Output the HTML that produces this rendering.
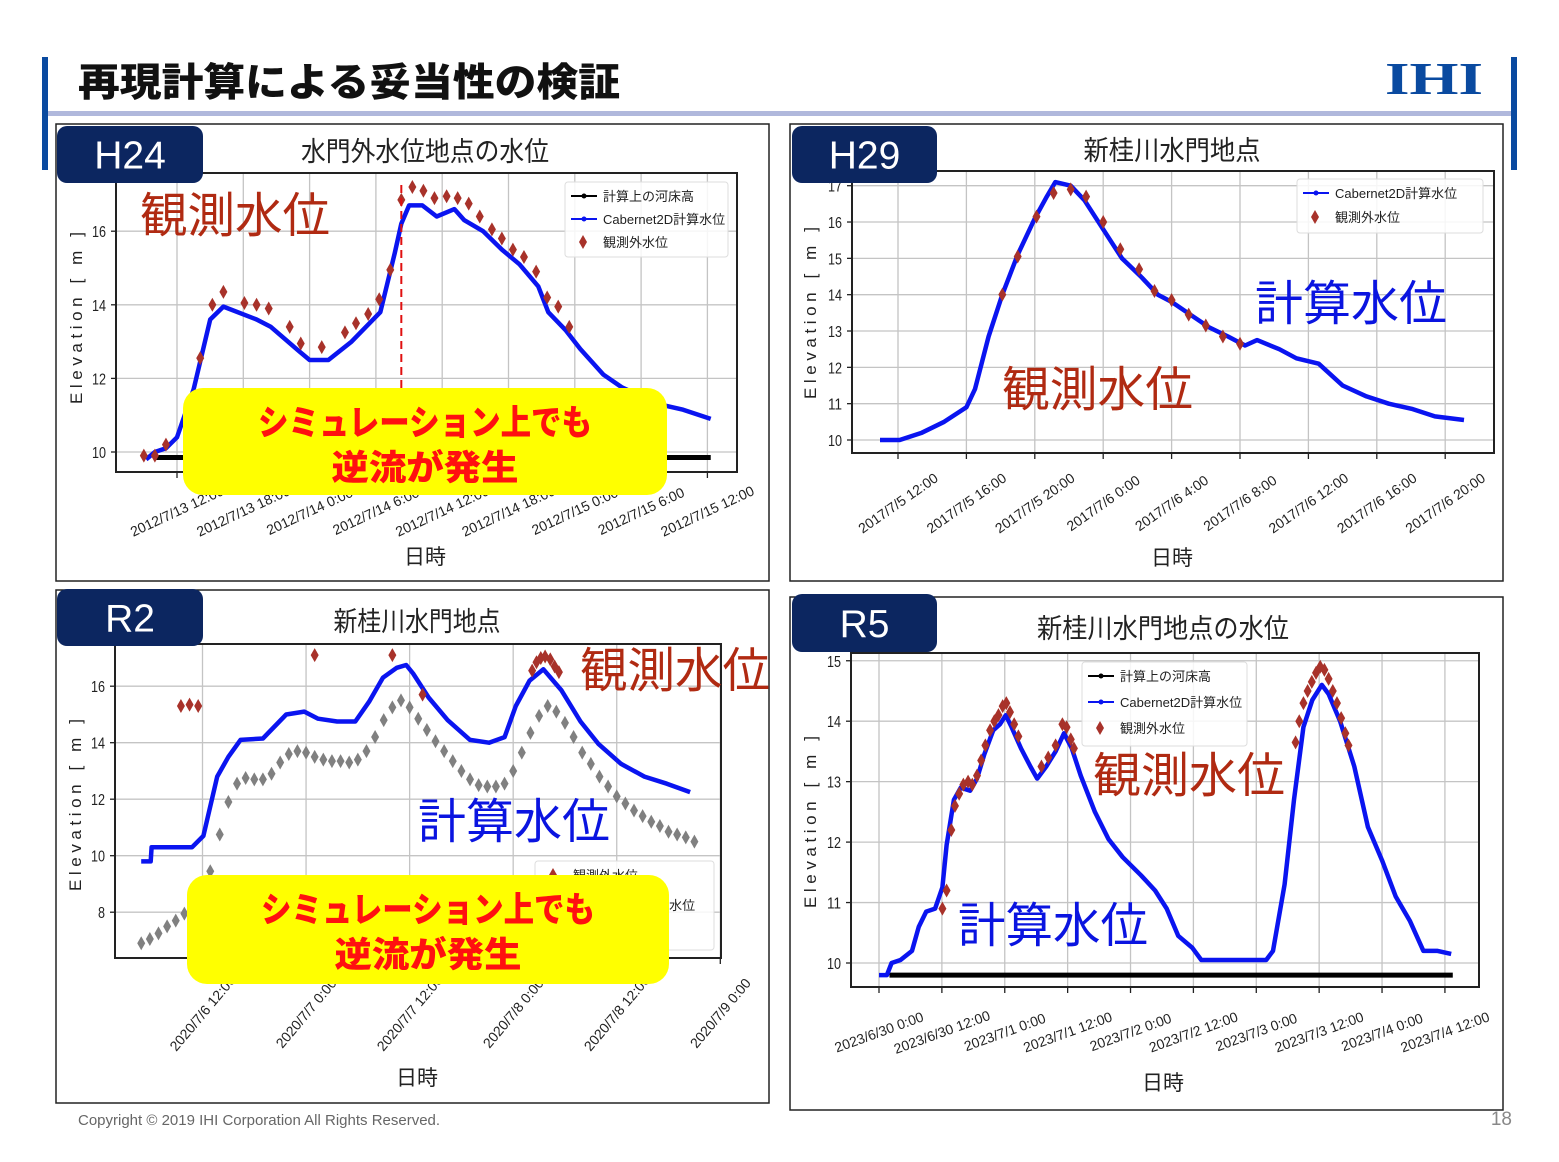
<!DOCTYPE html>
<html><head><meta charset="utf-8">
<style>
html,body{margin:0;padding:0;background:#fff;}
svg{display:block;}
text{font-family:"Liberation Sans","Noto Sans CJK JP",sans-serif;}
</style></head>
<body>
<svg id="page" width="1559" height="1162" viewBox="0 0 1559 1162" xmlns="http://www.w3.org/2000/svg">
  <rect x="0" y="0" width="1559" height="1162" fill="#fff"/>
  <rect x="42" y="57" width="6" height="113" fill="#0a4aa0"/>
  <rect x="1511" y="57" width="6" height="113" fill="#0a4aa0"/>
  <rect x="48" y="111" width="1463" height="5" fill="#b0b8dc"/>
  <text x="78" y="96" font-size="39" font-weight="bold" fill="#111" textLength="542" lengthAdjust="spacingAndGlyphs" style="font-family:'Liberation Sans','Noto Sans CJK JP',sans-serif;font-weight:900">再現計算による妥当性の検証</text>
  <text x="1434" y="94" font-size="46" font-weight="bold" fill="#0a4aa0" text-anchor="middle" textLength="98" lengthAdjust="spacingAndGlyphs" style="font-family:'Liberation Serif',serif">IHI</text>
  <text x="78" y="1125" font-size="15" fill="#666">Copyright © 2019 IHI Corporation All Rights Reserved.</text>
  <text x="1512" y="1125" font-size="19" fill="#888" text-anchor="end">18</text>
  <g id="charts"></g>
</svg>
<script>
// ---------- H24 data (hours from 2012/7/13 12:00) ----------
const h24_xTicks = [0,6,12,18,24,30,36,42,48];
const h24_xLabels = ["2012/7/13 12:00","2012/7/13 18:00","2012/7/14 0:00","2012/7/14 6:00","2012/7/14 12:00","2012/7/14 18:00","2012/7/15 0:00","2012/7/15 6:00","2012/7/15 12:00"];
const h24_yTicks = [10,12,14,16];
const h24_calcT = [-2.8,-2,-1,0,1.5,3.0,4.2,7.2,8.5,11,12,13.7,15.8,18.4,19.7,20.3,21,22.2,23.5,25.1,26,27.7,29.4,31,32.7,33.6,35.2,36.5,38.6,40.3,43.6,45.8,48.3];
const h24_calcV = [9.8,10.0,10.1,10.4,11.7,13.6,13.95,13.6,13.4,12.75,12.5,12.5,13.0,13.8,15.4,16.2,16.7,16.7,16.4,16.6,16.3,16.0,15.5,15.1,14.5,13.8,13.3,12.8,12.1,11.75,11.3,11.15,10.9];
const h24_bedT = [-2,48.3];
const h24_bedV = [9.85,9.85];
const h24_obsT = [-3.0,-2.0,-1.0,2.1,3.2,4.2,6.1,7.2,8.3,10.2,11.2,13.1,15.2,16.2,17.3,18.3,19.3,20.3,21.3,22.3,23.3,24.4,25.4,26.4,27.4,28.5,29.4,30.4,31.4,32.5,33.5,34.5,35.5];
const h24_obsV = [9.9,9.9,10.2,12.55,14.0,14.35,14.05,14.0,13.9,13.4,12.95,12.85,13.25,13.5,13.75,14.15,14.95,16.85,17.2,17.1,16.9,16.95,16.9,16.75,16.4,16.05,15.8,15.5,15.3,14.9,14.2,13.95,13.4];
const h24_gateT = [20.3];

// ---------- H29 data (hours from 2017/7/5 12:00) ----------
const h29_xTicks = [0,4,8,12,16,20,24,28,32];
const h29_xLabels = ["2017/7/5 12:00","2017/7/5 16:00","2017/7/5 20:00","2017/7/6 0:00","2017/7/6 4:00","2017/7/6 8:00","2017/7/6 12:00","2017/7/6 16:00","2017/7/6 20:00"];
const h29_yTicks = [10,11,12,13,14,15,16,17];
const h29_calcT = [-1.05,0.1,1.4,2.7,4,4.5,5.3,6.1,7.0,8,8.7,9.2,10.1,10.9,12,13.1,14.2,15.2,16,17.1,18.2,19.3,20.3,21,22.3,23.3,24.6,26,27.4,28.7,30.1,31.4,33.1];
const h29_calcV = [10.0,10.0,10.2,10.5,10.9,11.4,12.85,14.0,15.1,16.1,16.7,17.1,17.0,16.6,15.8,15.0,14.5,14.0,13.8,13.45,13.1,12.85,12.6,12.75,12.5,12.25,12.1,11.5,11.2,11.0,10.85,10.65,10.55];
const h29_obsT = [6.1,7,8.1,9.1,10.1,11,12,13,14.1,15,16,17,18,19,20];
const h29_obsV = [14.0,15.05,16.15,16.8,16.9,16.7,16.0,15.25,14.7,14.1,13.85,13.45,13.15,12.85,12.65];

// ---------- R2 data (hours from 2020/7/6 12:00) ----------
const r2_xTicks = [0,12,24,36,48,60];
const r2_xLabels = ["2020/7/6 12:00","2020/7/7 0:00","2020/7/7 12:00","2020/7/8 0:00","2020/7/8 12:00","2020/7/9 0:00"];
const r2_yTicks = [8,10,12,14,16];
const r2_calcT = [-7.1,-6.0,-5.9,-4.2,-1.2,0.1,1.7,3.0,4.4,7.0,9.7,11.8,13.4,15.6,17.7,19.3,20.9,22.5,23.6,24.4,26.2,28.4,31.0,33.2,35.0,36.3,37.9,39.5,41.6,43.8,45.9,48.5,51.2,53.8,56.5];
const r2_calcV = [9.8,9.8,10.3,10.3,10.3,10.7,12.8,13.5,14.1,14.15,15.0,15.1,14.85,14.75,14.75,15.45,16.3,16.65,16.75,16.45,15.6,14.8,14.1,14.0,14.2,15.3,16.2,16.6,15.85,14.75,13.95,13.25,12.8,12.55,12.25];
const r2_outT = [-7.1,-6.1,-5.1,-4.1,-3.1,-2.1,-1.1,-0.1,0.9,2,3,4,5,6,7,8,9,10,11,12,13,14,15,16,17,18,19,20,21,22,23,24,25,26,27,28,29,30,31,32,33,34,35,36,37,38,39,40,41,42,43,44,45,46,47,48,49,50,51,52,53,54,55,56,57];
const r2_outV = [6.9,7.05,7.25,7.5,7.7,7.95,8.3,8.9,9.45,10.75,11.9,12.55,12.75,12.7,12.7,12.9,13.3,13.6,13.7,13.65,13.5,13.4,13.35,13.35,13.3,13.4,13.7,14.2,14.8,15.25,15.5,15.25,14.85,14.45,14.05,13.7,13.35,13.0,12.7,12.5,12.45,12.45,12.55,13.0,13.65,14.35,14.95,15.3,15.1,14.7,14.2,13.65,13.25,12.8,12.45,12.1,11.85,11.6,11.4,11.2,11.05,10.85,10.75,10.65,10.5];
const r2_obsT = [-2.5,-1.5,-0.5,13,22,25.5,38.2,38.7,39.2,39.7,40.3,40.8,41.3];
const r2_obsV = [15.3,15.35,15.3,17.1,17.1,15.7,16.55,16.85,17.0,17.05,16.95,16.7,16.5];

// ---------- R5 data (hours from 2023/6/30 0:00) ----------
const r5_xTicks = [0,12,24,36,48,60,72,84,96,108];
const r5_xLabels = ["2023/6/30 0:00","2023/6/30 12:00","2023/7/1 0:00","2023/7/1 12:00","2023/7/2 0:00","2023/7/2 12:00","2023/7/3 0:00","2023/7/3 12:00","2023/7/4 0:00","2023/7/4 12:00"];
const r5_yTicks = [10,11,12,13,14,15];
const r5_calcT = [0,1.5,2.4,4.1,6.3,7.6,9.0,10.7,12.1,12.9,14.3,15.6,17.4,18.7,20.1,21.8,23.1,24.2,25.3,27.1,28.9,30.2,31.9,33.7,35.3,36.8,38.5,41.2,43.8,46.5,50,52.7,54.9,57.1,59.8,61.5,66.8,73.9,75.2,77.4,79.2,81,82.7,84.5,85.8,88,90.7,93.3,96,98.6,101.3,103.9,106.6,109.2];
const r5_calcV = [9.8,9.8,10.0,10.05,10.2,10.6,10.85,10.9,11.25,11.95,12.7,12.9,12.85,13.05,13.45,13.85,13.95,14.1,13.9,13.55,13.25,13.05,13.25,13.5,13.8,13.55,13.1,12.5,12.05,11.75,11.45,11.2,10.9,10.45,10.25,10.05,10.05,10.05,10.2,11.3,12.7,13.9,14.35,14.6,14.45,14.0,13.25,12.25,11.7,11.1,10.7,10.2,10.2,10.15];
const r5_bedT = [2,109.5];
const r5_bedV = [9.8,9.8];
const r5_obsT = [12.1,12.9,13.8,14.5,15.3,16.1,17,17.8,18.7,19.5,20.3,21.2,22,22.8,23.6,24.3,25,25.8,26.6,31,32.3,33.7,35,35.8,36.6,37.2,79.5,80.2,81,81.8,82.6,83.4,84.2,85,85.8,86.6,87.4,88.2,89,89.6];
const r5_obsV = [10.9,11.2,12.2,12.6,12.8,12.95,13.0,12.95,13.1,13.35,13.6,13.85,14.0,14.1,14.25,14.3,14.15,13.95,13.75,13.25,13.4,13.6,13.95,13.9,13.7,13.55,13.65,14.0,14.3,14.5,14.65,14.8,14.9,14.85,14.7,14.5,14.3,14.05,13.8,13.6];

const NS = "http://www.w3.org/2000/svg";
const root = document.getElementById('charts');
function mk(tag, attrs, parent){
  const e = document.createElementNS(NS, tag);
  for (const k in attrs) e.setAttribute(k, attrs[k]);
  (parent||root).appendChild(e);
  return e;
}
function txt(str, attrs, parent){ const e = mk('text', attrs, parent); e.textContent = str; return e; }
function diamond(cx, cy, fill, g){
  return mk('path', {d:`M${cx} ${cy-7}L${cx+4} ${cy}L${cx} ${cy+7}L${cx-4} ${cy}Z`, fill:fill}, g);
}

function panel(cfg){
  const g = mk('g', {});
  
  
  const b = mk('rect', {x:cfg.box[0], y:cfg.box[1], width:cfg.box[2]-cfg.box[0], height:cfg.box[3]-cfg.box[1], fill:'#fff', stroke:'#222', 'stroke-width':1.5}, g);
  
  
  const F = cfg.frame;
  const X = h => cfg.xa + h*cfg.xb;
  const Y = v => cfg.ya - (v - cfg.yv0)*cfg.yb;
  const grid = mk('g', {stroke:'#c4c4c4', 'stroke-width':1.3}, g);
  
  
  cfg.xTicks.forEach(h => mk('line', {x1:X(h), x2:X(h), y1:F[1], y2:F[3]}, grid));
  cfg.yTicks.forEach(v => mk('line', {x1:F[0], x2:F[2], y1:Y(v), y2:Y(v)}, grid));
  cfg.xTicks.forEach((h,i) => {
    mk('line', {x1:X(h), x2:X(h), y1:F[3], y2:F[3]+6, stroke:'#222', 'stroke-width':1.3}, g);
    const t = txt(cfg.xLabels[i], {x:X(h), y:cfg.xLabY, 'font-size':14, 'text-anchor':'middle', fill:'#222',
      transform:`rotate(${cfg.rot} ${X(h)} ${cfg.xLabY-5})`}, g);
    
    
  });
  cfg.yTicks.forEach(v => {
    mk('line', {x1:F[0]-5, x2:F[0], y1:Y(v), y2:Y(v), stroke:'#222', 'stroke-width':1.3}, g);
    const t = txt(String(v), {x:F[0]-10, y:Y(v)+6, 'font-size':16, 'text-anchor':'end', fill:'#222', textLength:String(v).length*7, lengthAdjust:'spacingAndGlyphs'}, g);
    
    
  });
  const sg = mk('g', {}, g);
  
  
  if (cfg.out) cfg.out[0].forEach((h,i) => {
    const d = diamond(X(h), Y(cfg.out[1][i]), '#808080', sg);
    
    
  });
  if (cfg.bed) {
    const l = mk('line', {x1:X(cfg.bed[0][0]), x2:X(cfg.bed[0][1]), y1:Y(cfg.bed[1][0]), y2:Y(cfg.bed[1][1]), stroke:'#000', 'stroke-width':5}, sg);
    
    
  }
  const pts = cfg.calc[0].map((h,i) => X(h).toFixed(1)+','+Y(cfg.calc[1][i]).toFixed(1)).join(' ');
  const pl = mk('polyline', {points:pts, fill:'none', stroke:'#0a14f0', 'stroke-width':4.5, 'stroke-linejoin':'round'}, sg);
  
  
  cfg.obs[0].forEach((h,i) => {
    const d = diamond(X(h), Y(cfg.obs[1][i]), '#a8322a', sg);
    
    
  });
  if (cfg.gate) cfg.gate.forEach(h => {
    const l = mk('line', {x1:X(h), x2:X(h), y1:F[1]+12, y2:F[3], stroke:'#e01010', 'stroke-width':2, 'stroke-dasharray':'8,5'}, sg);
    
    
  });
  const fr = mk('rect', {x:F[0], y:F[1], width:F[2]-F[0], height:F[3]-F[1], fill:'none', stroke:'#222', 'stroke-width':2}, g);
  
  
  if (cfg.legend) {
    const L = cfg.legend;
    const lg = mk('g', {}, g);
    
    
    mk('rect', {x:L.x, y:L.y, width:L.w, height:L.h, fill:'#fff', 'fill-opacity':0.85, stroke:'#ddd', rx:3}, lg);
    L.items.forEach((it,i) => {
      const yy = L.y + 14 + i*L.dy;
      if (it.k === 'dia') diamond(L.x+18, yy, '#a8322a', lg);
      else { mk('line', {x1:L.x+6, x2:L.x+32, y1:yy, y2:yy, stroke:it.c, 'stroke-width':2}, lg); mk('circle', {cx:L.x+19, cy:yy, r:2.5, fill:it.c}, lg); }
      const t = txt(it.t, {x:L.x+38, y:yy+5, 'font-size':L.fs, fill:'#222'}, lg);
      
      
    });
  }
  const tt = txt(cfg.title, {x:cfg.titleX, y:cfg.titleY, 'font-size':27, 'text-anchor':'middle', fill:'#222', textLength:cfg.titleW, lengthAdjust:'spacingAndGlyphs'}, g);
  
  
  const yt = txt('Elevation [ m ]', {x:0, y:0, 'font-size':17, 'text-anchor':'middle', fill:'#222', textLength:172, lengthAdjust:'spacing',
    transform:`translate(${cfg.yTitle[0]} ${cfg.yTitle[1]}) rotate(-90)`}, g);
  
  
  const xt = txt('日時', {x:cfg.xTitle[0], y:cfg.xTitle[1], 'font-size':21, 'text-anchor':'middle', fill:'#222'}, g);
  
  
  const bg = mk('rect', {x:cfg.badge[0], y:cfg.badge[1], width:cfg.badge[2], height:cfg.badge[3], rx:10, fill:'#0c2660'}, g);
  
  
  const bt = txt(cfg.name.toUpperCase(), {x:cfg.badge[0]+cfg.badge[2]/2, y:cfg.badge[1]+cfg.badge[3]/2+14, 'font-size':39, 'text-anchor':'middle', fill:'#fff'}, g);
  
  
  (cfg.notes||[]).forEach(n => {
    const t = txt(n.t, {x:n.x, y:n.y, 'font-size':48, fill:n.c, textLength:n.w, lengthAdjust:'spacingAndGlyphs'}, g);
    
    
  });
  if (cfg.callout) {
    const c = cfg.callout;
    const cg = mk('g', {}, g);
    
    
    mk('rect', {x:c[0], y:c[1], width:c[2], height:c[3], rx:20, fill:'#ffff00'}, cg);
    const cx = c[0]+c[2]/2;
    txt('シミュレーション上でも', {x:cx, y:c[1]+47, 'font-size':35, 'font-weight':'bold', 'text-anchor':'middle', fill:'#ff1010', textLength:334, lengthAdjust:'spacingAndGlyphs', style:'font-weight:900'}, cg);
    txt('逆流が発生', {x:cx, y:c[1]+92, 'font-size':35, 'font-weight':'bold', 'text-anchor':'middle', fill:'#ff1010', textLength:187, lengthAdjust:'spacingAndGlyphs', style:'font-weight:900'}, cg);
  }
}

const RED = '#b02a12', BLUE = '#0a14e0';
panel({name:'h24', box:[56,124,769,581], frame:[116,173,737,472],
  xa:177, xb:11.05, ya:452, yb:36.8, yv0:10,
  xTicks:h24_xTicks, xLabels:h24_xLabels, yTicks:h24_yTicks, rot:-25, xLabY:516,
  calc:[h24_calcT,h24_calcV], obs:[h24_obsT,h24_obsV], bed:[h24_bedT,h24_bedV], gate:h24_gateT,
  legend:{x:565,y:182,w:163,h:75,dy:23,fs:13,items:[{t:'計算上の河床高',c:'#000'},{t:'Cabernet2D計算水位',c:'#0a14f0'},{t:'観測外水位',k:'dia'}]},
  title:'水門外水位地点の水位', titleW:248, titleX:425, titleY:161, yTitle:[82,318], xTitle:[425,564],
  badge:[57,126,146,57],
  notes:[{t:'観測水位',x:140,y:232,c:RED,w:190,name:'observed-annotation'}],
  callout:[183,388,484,107]});
panel({name:'h29', box:[790,124,1503,581], frame:[852,171,1494,453],
  xa:898, xb:17.1, ya:440, yb:36.33, yv0:10,
  xTicks:h29_xTicks, xLabels:h29_xLabels, yTicks:h29_yTicks, rot:-35, xLabY:508,
  calc:[h29_calcT,h29_calcV], obs:[h29_obsT,h29_obsV],
  legend:{x:1297,y:179,w:186,h:54,dy:24,fs:13,items:[{t:'Cabernet2D計算水位',c:'#0a14f0'},{t:'観測外水位',k:'dia'}]},
  title:'新桂川水門地点', titleW:177, titleX:1172, titleY:160, yTitle:[816,313], xTitle:[1172,565],
  badge:[792,126,145,57],
  notes:[{t:'計算水位',x:1255,y:320,c:BLUE,w:192,name:'calculated-annotation'},{t:'観測水位',x:1002,y:406,c:RED,w:191,name:'observed-annotation'}]});
panel({name:'r2', box:[56,590,769,1103], frame:[115,644,721,958],
  xa:202.5, xb:8.63, ya:855.7, yb:28.25, yv0:10,
  xTicks:r2_xTicks, xLabels:r2_xLabels, yTicks:r2_yTicks, rot:-50, xLabY:1018,
  calc:[r2_calcT,r2_calcV], obs:[r2_obsT,r2_obsV], out:[r2_outT,r2_outV],
  legend:{x:535,y:861,w:179,h:89,dy:30,fs:13,items:[{t:'観測外水位',k:'dia'},{t:'Cabernet2D計算水位',c:'#0a14f0'},{t:'観測内水位',k:'dia'}]},
  title:'新桂川水門地点', titleW:167, titleX:417, titleY:631, yTitle:[81,805], xTitle:[417,1085],
  badge:[57,589,146,57],
  notes:[{t:'観測水位',x:580,y:687,c:RED,w:190,name:'observed-annotation'},{t:'計算水位',x:418,y:838,c:BLUE,w:192,name:'calculated-annotation'}],
  callout:[187,875,482,109]});
panel({name:'r5', box:[790,597,1503,1110], frame:[851,653,1479,987],
  xa:879, xb:5.24, ya:963, yb:60.45, yv0:10,
  xTicks:r5_xTicks, xLabels:r5_xLabels, yTicks:r5_yTicks, rot:-20, xLabY:1037,
  calc:[r5_calcT,r5_calcV], obs:[r5_obsT,r5_obsV], bed:[r5_bedT,r5_bedV],
  legend:{x:1082,y:662,w:165,h:84,dy:26,fs:13,items:[{t:'計算上の河床高',c:'#000'},{t:'Cabernet2D計算水位',c:'#0a14f0'},{t:'観測外水位',k:'dia'}]},
  title:'新桂川水門地点の水位', titleW:252, titleX:1163, titleY:638, yTitle:[816,822], xTitle:[1163,1090],
  badge:[792,594,145,58],
  notes:[{t:'観測水位',x:1093,y:792,c:RED,w:192,name:'observed-annotation'},{t:'計算水位',x:958,y:942,c:BLUE,w:190,name:'calculated-annotation'}]});
</script>
</body></html>
